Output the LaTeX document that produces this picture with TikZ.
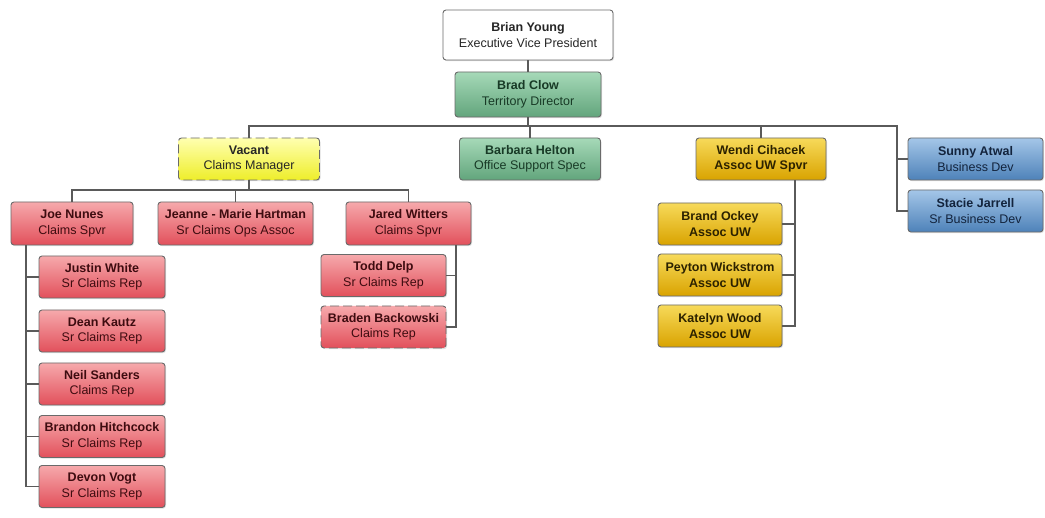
\documentclass[tikz,border=0pt]{standalone}
\usepackage{fontspec}
\setmainfont{Liberation Sans}
\usetikzlibrary{shadows}
\definecolor{linegray}{HTML}{5A5A5A}
\definecolor{edgegray}{HTML}{6A6A6A}
\definecolor{greentop}{HTML}{A6D9B8}
\definecolor{greenbot}{HTML}{62A57C}
\definecolor{redtop}{HTML}{F6A9AC}
\definecolor{redbot}{HTML}{E2505B}
\definecolor{goldtop}{HTML}{F7DA5A}
\definecolor{goldbot}{HTML}{D9A300}
\definecolor{bluetop}{HTML}{A4C6E8}
\definecolor{bluebot}{HTML}{4E82B9}
\definecolor{yellowtop}{HTML}{FFFFB0}
\definecolor{yellowbot}{HTML}{EEEE2A}
\definecolor{greentext}{HTML}{183A26}
\definecolor{redtext}{HTML}{3E0C10}
\definecolor{goldtext}{HTML}{2C2200}
\definecolor{bluetext}{HTML}{13243D}
\begin{document}
\begin{tikzpicture}[x=1pt,y=-1pt,
    font=\fontsize{12.5}{15.5}\selectfont,
    person/.style={draw=edgegray,line width=0.9pt,rounded corners=3pt,align=center,
      inner sep=0pt,minimum height=42,
      drop shadow={opacity=0.25,shadow xshift=1pt,shadow yshift=-1.2pt}},
    whitebox/.style={person,fill=white,text=black!85},
    greenbox/.style={person,top color=greentop,bottom color=greenbot,text=greentext},
    redbox/.style={person,top color=redtop,bottom color=redbot,text=redtext},
    goldbox/.style={person,top color=goldtop,bottom color=goldbot,text=goldtext},
    bluebox/.style={person,top color=bluetop,bottom color=bluebot,text=bluetext},
    yellowbox/.style={person,top color=yellowtop,bottom color=yellowbot,text=black!85},
    vacancy/.style={dash pattern=on 9pt off 4pt},
    link/.style={draw=linegray,line width=1.1pt}]
  \useasboundingbox (0,0) rectangle (1045,518);
  % top of the chart
  \node[whitebox,minimum width=170,minimum height=50] (brian) at (528,35)
    {\textbf{Brian Young}\\Executive Vice President};
  \node[greenbox,minimum width=146,minimum height=45] (brad) at (528,94.5)
    {\textbf{Brad Clow}\\Territory Director};
  % second row
  \node[yellowbox,vacancy,minimum width=141] (vacant) at (249,159)
    {\textbf{Vacant}\\Claims Manager};
  \node[greenbox,minimum width=141] (barbara) at (530,159)
    {\textbf{Barbara Helton}\\Office Support Spec};
  \node[goldbox,minimum width=130] (wendi) at (761,159)
    {\textbf{Wendi Cihacek}\\\textbf{Assoc UW Spvr}};
  \node[bluebox,minimum width=135] (sunny) at (975.5,159)
    {\textbf{Sunny Atwal}\\Business Dev};
  \node[bluebox,minimum width=135] (stacie) at (975.5,211)
    {\textbf{Stacie Jarrell}\\Sr Business Dev};
  % claims team
  \node[redbox,minimum width=122,minimum height=43] (joe) at (72,223.5)
    {\textbf{Joe Nunes}\\Claims Spvr};
  \node[redbox,minimum width=155,minimum height=43] (jeanne) at (235.5,223.5)
    {\textbf{Jeanne - Marie Hartman}\\Sr Claims Ops Assoc};
  \node[redbox,minimum width=125,minimum height=43] (jared) at (408.5,223.5)
    {\textbf{Jared Witters}\\Claims Spvr};
  \node[redbox,minimum width=126] (justin) at (102,277)
    {\textbf{Justin White}\\Sr Claims Rep};
  \node[redbox,minimum width=126] (dean) at (102,331)
    {\textbf{Dean Kautz}\\Sr Claims Rep};
  \node[redbox,minimum width=126] (neil) at (102,384)
    {\textbf{Neil Sanders}\\Claims Rep};
  \node[redbox,minimum width=126] (brandon) at (102,436.5)
    {\textbf{Brandon Hitchcock}\\Sr Claims Rep};
  \node[redbox,minimum width=126] (devon) at (102,486.5)
    {\textbf{Devon Vogt}\\Sr Claims Rep};
  \node[redbox,minimum width=125] (todd) at (383.5,275.5)
    {\textbf{Todd Delp}\\Sr Claims Rep};
  \node[redbox,vacancy,minimum width=125] (braden) at (383.5,327)
    {\textbf{Braden Backowski}\\Claims Rep};
  % underwriting team
  \node[goldbox,minimum width=124] (brand) at (720,224)
    {\textbf{Brand Ockey}\\\textbf{Assoc UW}};
  \node[goldbox,minimum width=124] (peyton) at (720,275)
    {\textbf{Peyton Wickstrom}\\\textbf{Assoc UW}};
  \node[goldbox,minimum width=124] (katelyn) at (720,326)
    {\textbf{Katelyn Wood}\\\textbf{Assoc UW}};
  % connectors
  \coordinate (bus) at (528,126);
  \coordinate (sbus) at (897,126);
  \coordinate (vbus) at (249,190);
  \coordinate (jx) at (26,0);
  \coordinate (jrx) at (456,0);
  \coordinate (wx) at (795,0);
  \draw[link] (brian) -- (brad);
  \draw[link] (brad.south) -- (bus);
  \draw[link] (vacant.north) |- (bus) -| (wendi.north);
  \draw[link] (barbara.north) -- (barbara.north |- bus);
  \draw[link] (bus) -| (sbus |- stacie.west) -- (stacie.west);
  \draw[link] (sbus |- sunny.west) -- (sunny.west);
  \draw[link] (vacant.south) -- (vbus);
  \draw[link] (joe.north) |- (vbus) -| (jared.north);
  \draw[link] (jeanne.north) -- (jeanne.north |- vbus);
  \draw[link] (jx |- joe.south) |- (devon.west);
  \foreach \n in {justin,dean,neil,brandon}
    \draw[link] (jx |- \n.west) -- (\n.west);
  \draw[link] (jrx |- jared.south) |- (braden.east);
  \draw[link] (jrx |- todd.east) -- (todd.east);
  \draw[link] (wx |- wendi.south) |- (katelyn.east);
  \foreach \n in {brand,peyton}
    \draw[link] (wx |- \n.east) -- (\n.east);
\end{tikzpicture}
\end{document}
